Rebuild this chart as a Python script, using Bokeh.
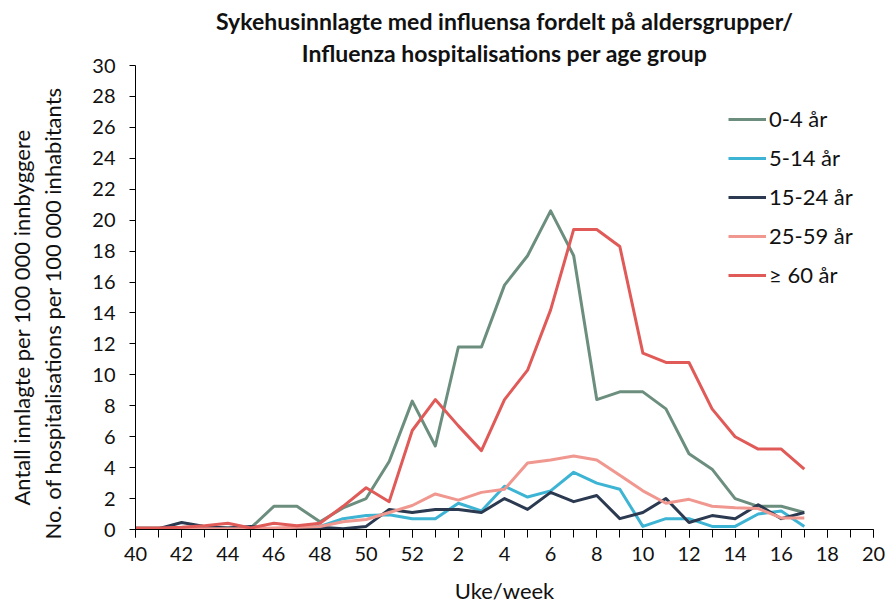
from bokeh.plotting import figure
from bokeh.models import FixedTicker, Legend, LegendItem, Title, Range1d
from bokeh.embed import file_html
from bokeh.resources import INLINE

# ---- data ----
weeks = [40, 41, 42, 43, 44, 45, 46, 47, 48, 49, 50, 51, 52,
         1, 2, 3, 4, 5, 6, 7, 8, 9, 10, 11, 12, 13, 14, 15, 16, 17]
axis_weeks = [40, 41, 42, 43, 44, 45, 46, 47, 48, 49, 50, 51, 52,
              1, 2, 3, 4, 5, 6, 7, 8, 9, 10, 11, 12, 13, 14, 15, 16, 17, 18, 19, 20]

age_0_4 = [0.1, 0.1, 0.1, 0.1, 0.1, 0.1, 1.5, 1.5, 0.5, 1.4, 2.0, 4.4, 8.3, 5.4, 11.8,
           11.8, 15.8, 17.7, 20.6, 17.7, 8.4, 8.9, 8.9, 7.8, 4.9, 3.9, 2.0, 1.5, 1.5, 1.1]
age_5_14 = [0.05, 0.05, 0.05, 0.05, 0.05, 0.05, 0.05, 0.1, 0.2, 0.7, 0.9, 0.95, 0.7, 0.7, 1.7,
            1.2, 2.8, 2.1, 2.5, 3.7, 3.0, 2.6, 0.2, 0.7, 0.7, 0.2, 0.2, 1.0, 1.2, 0.2]
age_15_24 = [0.05, 0.05, 0.45, 0.2, 0.1, 0.2, 0.0, 0.05, 0.15, 0.05, 0.2, 1.3, 1.1, 1.3, 1.3,
             1.1, 2.0, 1.3, 2.4, 1.8, 2.2, 0.7, 1.1, 2.0, 0.45, 0.9, 0.7, 1.6, 0.7, 1.1]
age_25_59 = [0.05, 0.05, 0.05, 0.05, 0.05, 0.05, 0.1, 0.15, 0.2, 0.5, 0.65, 1.1, 1.55, 2.3, 1.9,
             2.4, 2.6, 4.3, 4.5, 4.75, 4.5, 3.5, 2.5, 1.7, 1.95, 1.5, 1.4, 1.35, 0.75, 0.75]
age_60 = [0.1, 0.1, 0.15, 0.25, 0.4, 0.1, 0.4, 0.25, 0.4, 1.5, 2.7, 1.8, 6.4, 8.4, 6.7,
          5.1, 8.4, 10.3, 14.2, 19.4, 19.4, 18.3, 11.4, 10.8, 10.8, 7.8, 6.0, 5.2, 5.2, 3.9]

series_names = ["0-4 år", "5-14 år", "15-24 år", "25-59 år", "\u2265 60 år"]
series_values = [age_0_4, age_5_14, age_15_24, age_25_59, age_60]
series_colors = ["#6c8e7e", "#3db4d3", "#2b3a50", "#f0978f", "#e05a58"]

y_ticks = list(range(0, 31, 2))

title_line1 = "Sykehusinnlagte med influensa fordelt på aldersgrupper/"
title_line2 = "Influenza hospitalisations per age group"
ylabel_line1 = "Antall innlagte per 100 000 innbyggere"
ylabel_line2 = "No. of hospitalisations per 100 000 inhabitants"
xlabel = "Uke/week"

FONT = "Lato"
TXT = "#111111"

x_pos = list(range(len(weeks)))
n_axis = len(axis_weeks)

p = figure(frame_width=738, frame_height=464,
           min_border_left=135, min_border_right=12,
           min_border_top=65, min_border_bottom=84,
           x_range=Range1d(0, n_axis - 1), y_range=Range1d(0, 30),
           output_backend="svg", toolbar_location=None, title=None)

p.outline_line_color = None
p.xgrid.grid_line_color = None
p.ygrid.grid_line_color = None
p.background_fill_color = "white"
p.border_fill_color = "white"

# x axis
xa = p.xaxis[0]
xa.ticker = FixedTicker(ticks=list(range(0, n_axis, 2)), minor_ticks=list(range(0, n_axis)))
xa.major_label_overrides = {i: str(axis_weeks[i]) for i in range(0, n_axis, 2)}
xa.major_tick_in = 0
xa.major_tick_out = 8
xa.minor_tick_in = 0
xa.minor_tick_out = 8
xa.axis_line_color = "black"
xa.major_tick_line_color = "black"
xa.minor_tick_line_color = "black"
xa.major_label_text_font = FONT
xa.major_label_text_font_size = "20px"
xa.major_label_text_color = TXT
xa.major_label_standoff = 9
xa.axis_label = xlabel
xa.axis_label_text_font = FONT
xa.axis_label_text_font_style = "normal"
xa.axis_label_text_font_size = "22px"
xa.axis_label_text_color = TXT
xa.axis_label_standoff = 13

# y axis
ya = p.yaxis[0]
ya.ticker = FixedTicker(ticks=y_ticks, minor_ticks=[])
ya.major_tick_in = 0
ya.major_tick_out = 6
ya.axis_line_color = "black"
ya.major_tick_line_color = "black"
ya.major_label_text_font = FONT
ya.major_label_text_font_size = "20px"
ya.major_label_text_color = TXT
ya.major_label_standoff = 14

renderers = []
for name, vals, col in zip(series_names, series_values, series_colors):
    r = p.line(x_pos, vals, line_color=col, line_width=3, line_join="round")
    renderers.append((name, r))

legend = Legend(items=[LegendItem(label=n, renderers=[r]) for n, r in renderers],
                location=(593, 241), glyph_width=38, glyph_height=20, label_height=20,
                spacing=12, padding=0, margin=0, label_standoff=3,
                border_line_color=None, background_fill_alpha=0,
                label_text_font=FONT, label_text_font_size="22px", label_text_color=TXT)
p.add_layout(legend)

# chart title (two lines)
t2 = Title(text=title_line2, align="center", text_font=FONT, text_font_style="bold",
           text_font_size="23px", text_color=TXT, standoff=-2)
t1 = Title(text=title_line1, align="center", text_font=FONT, text_font_style="bold",
           text_font_size="23px", text_color=TXT, standoff=5)
p.add_layout(t2, "above")
p.add_layout(t1, "above")

# y axis title (two lines)
yl2 = Title(text=ylabel_line2, align="left", offset=-10, text_font=FONT,
            text_font_style="normal", text_font_size="22px", text_color=TXT, standoff=47)
yl1 = Title(text=ylabel_line1, align="left", offset=24, text_font=FONT,
            text_font_style="normal", text_font_size="22px", text_color=TXT, standoff=-42)
p.add_layout(yl2, "left")
p.add_layout(yl1, "left")

open("out.html", "w").write(file_html(p, INLINE))
